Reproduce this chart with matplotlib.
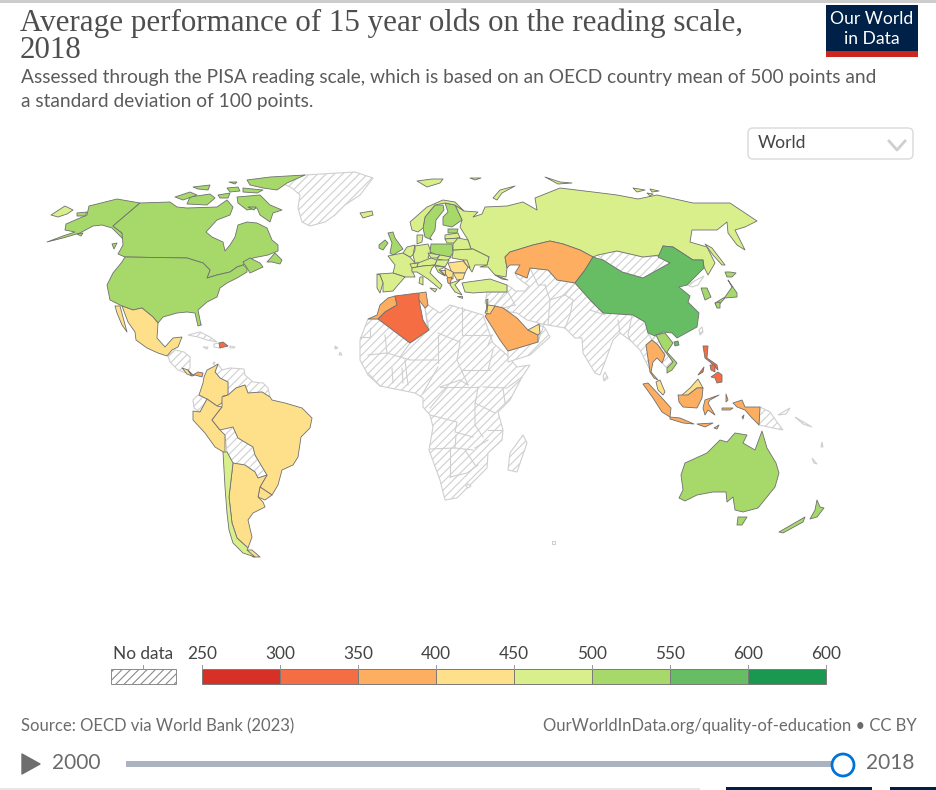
import numpy as np
import matplotlib
matplotlib.use("Agg")
import matplotlib.pyplot as plt
from matplotlib.patches import Polygon, Rectangle, FancyBboxPatch, Circle

plt.rcParams["hatch.linewidth"] = 0.8

TITLE = ["Average performance of 15 year olds on the reading scale,", "2018"]
SUBTITLE = ["Assessed through the PISA reading scale, which is based on an OECD country mean of 500 points and",
            "a standard deviation of 100 points."]
BIN_EDGES = [250, 300, 350, 400, 450, 500, 550, 600, 650]
BIN_LABELS = ["250", "300", "350", "400", "450", "500", "550", "600", "600"]
BIN_COLORS = ["#d73027", "#f46d43", "#fdae61", "#fee08b", "#d9ef8b", "#a6d96a", "#66bd63", "#1a9850"]

# country outlines, traced by eye, in picture pixels
alaska = [(47,242),(63,236),(75,232),(65,230),(66,224),(80,218),(87,215),(89,206),(117,199),(140,203),(113,226),(122,233),(123,239),(112,228),(102,225),(93,226),(80,233),(63,238)]
canada = [(140,203),(170,202),(177,207),(187,208),(217,207),(227,200),(233,207),(230,215),(217,220),(206,232),(212,237),(223,242),(225,251),(230,245),(235,237),(238,225),(247,222),(257,223),(267,228),(272,240),(278,245),(278,251),(268,255),(253,258),(243,265),(237,267),(230,272),(217,275),(207,278),(210,270),(203,263),(187,258),(125,257),(118,254),(123,245),(122,233),(113,226)]
canada_isles = [
    [(243,262),(250,258),(260,263),(263,267),(250,273),(247,268)],
    [(267,262),(275,253),(282,260),(280,264),(272,262)],
    [(237,197),(260,195),(270,205),(282,210),(273,213),(270,222),(260,215),(257,208),(247,210),(238,203)],
    [(247,180),(270,177),(305,175),(287,183),(277,190),(263,188),(250,185)],
    [(190,197),(210,194),(215,198),(207,205),(187,204)],
    [(175,197),(190,192),(197,195),(183,200)],
    [(193,187),(210,185),(208,190),(198,189)],
    [(227,188),(238,187),(240,191),(230,192)],
    [(218,195),(230,193),(228,198),(220,198)],
    [(243,188),(263,190),(257,193),(243,192)],
    [(229,182),(237,182),(235,184)],
    [(112,244),(117,243),(114,249)],
    [(248,207),(256,207),(254,210)],
    [(77,213),(87,212),(85,216),(77,216)],
    [(77,234),(83,233),(81,236)],
]
usa = [(125,257),(187,258),(203,263),(210,270),(207,278),(217,275),(230,272),(237,267),(243,265),(247,268),(247,272),(237,278),(227,283),(220,288),(217,297),(207,302),(198,310),(201,325),(198,326),(195,313),(187,312),(177,313),(163,317),(158,323),(153,317),(142,308),(133,310),(122,306),(110,300),(107,285),(113,273),(122,262)]
mexico = [(122,306),(133,310),(142,308),(153,317),(158,323),(157,338),(165,347),(173,338),(182,337),(178,347),(172,350),(167,356),(158,353),(147,348),(136,340),(135,332),(128,322)]
baja = [(115,306),(120,306),(127,332),(122,325),(117,313)]
costa_rica = [(182,368),(188,370),(192,376),(187,374)]
panama = [(188,370),(193,375),(198,372),(203,373),(202,377),(195,375),(192,376)]
dominican = [(219,343),(223,342),(228,346),(220,348)]
colombia = [(218,364),(213,367),(207,370),(204,377),(203,383),(199,395),(207,399),(217,406),(222,403),(223,396),(228,395),(228,382),(220,378),(215,372)]
peru = [(193,411),(200,412),(207,399),(217,406),(222,407),(212,420),(220,430),(225,435),(225,453),(215,447),(205,433),(193,420)]
brazil = [(222,397),(228,395),(236,388),(245,385),(248,393),(262,392),(270,397),(272,400),(285,403),(302,408),(312,418),(310,428),(301,437),(298,457),(293,465),(282,470),(278,485),(272,495),(260,487),(267,475),(255,455),(253,447),(238,438),(233,427),(220,430),(212,420),(222,407)]
uruguay = [(260,487),(272,495),(265,500),(258,497)]
argentina = [(233,463),(245,465),(255,472),(258,478),(267,475),(260,487),(258,497),(263,502),(265,507),(253,513),(248,520),(252,537),(248,548),(237,538),(232,523),(229,497)]
argentina_tdf = [(247,550),(252,550),(260,557),(253,557)]
chile = [(223,452),(227,452),(233,463),(229,497),(232,523),(237,538),(248,548),(247,550),(255,557),(243,553),(233,543),(229,530),(227,513),(225,487)]
russia = [(460,227),(462,220),(455,205),(464,211),(478,212),(473,217),(482,214),(485,207),(507,206),(523,202),(537,210),(535,198),(560,188),(593,192),(617,195),(638,199),(657,195),(693,203),(730,203),(748,215),(757,221),(745,227),(735,230),(745,250),(737,245),(728,233),(727,222),(717,230),(692,230),(690,242),(707,247),(715,263),(708,275),(704,267),(703,260),(693,260),(673,247),(663,246),(660,255),(643,257),(617,251),(598,255),(593,257),(580,250),(563,244),(550,241),(533,245),(510,252),(505,257),(507,268),(506,277),(495,275),(488,267),(480,267),(487,265),(489,257),(473,249),(471,249),(468,240)]
russia_isles = [
    [(705,244),(712,248),(725,265),(722,265),(713,255)],
    [(493,198),(500,190),(515,186),(502,193),(497,200)],
    [(417,181),(432,179),(443,179),(440,183),(427,187)],
    [(470,178),(481,178),(475,180)],
    [(633,188),(645,190),(637,192)],
    [(650,189),(659,191),(652,192)],
    [(647,193),(653,194),(650,196)],
    [(545,177),(560,182),(572,183),(558,184)],
    [(51,215),(65,206),(73,210),(67,214),(58,217)],
]
ukraine = [(453,250),(473,249),(489,257),(487,265),(475,265),(472,272),(468,266),(463,260),(452,258)]
moldova = [(463,260),(467,260),(470,268),(467,266)]
finland = [(445,203),(455,205),(462,220),(452,227),(443,225),(443,217),(448,212)]
sweden = [(443,205),(444,210),(436,220),(435,230),(430,238),(432,240),(425,237),(423,228),(425,217),(435,205)]
norway = [(412,230),(410,222),(427,207),(443,200),(455,202),(464,211),(455,205),(445,203),(435,205),(425,217),(423,228),(418,232)]
iceland = [(360,213),(372,211),(373,215),(363,218)]
uk = [(388,233),(393,232),(395,238),(403,249),(393,255),(390,253),(392,243)]
ireland = [(379,245),(385,240),(388,243),(383,250),(379,248)]
denmark = [(417,235),(423,235),(422,242),(417,244)]
france = [(388,256),(403,253),(410,257),(415,263),(412,270),(415,277),(405,277),(393,273),(395,265)]
spain = [(378,274),(393,273),(405,277),(398,285),(393,291),(383,292),(383,283),(380,275)]
portugal = [(377,274),(380,275),(383,283),(380,293),(377,288)]
benelux = [(407,247),(415,245),(413,255),(410,257),(403,253)]
germany = [(415,246),(428,244),(431,252),(428,257),(431,261),(418,263),(415,263),(413,255),(415,250)]
poland = [(431,244),(452,244),(453,253),(450,257),(437,255),(430,252)]
estonia = [(448,229),(458,229),(457,233),(448,233)]
latvia = [(445,235),(458,233),(460,238),(445,239)]
lithuania = [(445,239),(460,238),(458,243),(447,243)]
belarus = [(453,244),(458,238),(468,240),(471,249),(453,250)]
czechia = [(428,253),(440,255),(437,258),(431,258)]
slovakia = [(440,255),(451,257),(447,261),(437,259)]
austria = [(418,263),(431,258),(437,260),(435,265),(423,266),(417,267)]
switzerland = [(410,264),(418,263),(417,267),(412,268)]
hungary = [(437,260),(449,260),(445,267),(435,265)]
italy = [(412,268),(417,267),(423,266),(435,265),(432,268),(430,273),(442,285),(440,289),(428,279),(417,272),(412,272)]
sicily = [(430,288),(437,289),(435,292)]
sardinia = [(420,277),(423,277),(423,285),(419,283)]
romania = [(448,263),(463,261),(468,267),(465,273),(452,273)]
bulgaria = [(453,273),(465,273),(463,279),(457,280)]
serbia = [(445,268),(453,272),(453,279),(448,278),(445,273)]
bosnia = [(440,270),(445,270),(445,275)]
croatia = [(435,266),(445,267),(439,270),(445,276),(438,272)]
albania = [(447,278),(452,277),(450,284),(448,283)]
greece = [(451,283),(460,280),(455,285),(462,295),(455,292),(450,285)]
crete = [(457,296),(462,296),(462,298)]
turkey = [(462,283),(468,282),(490,279),(507,285),(507,292),(487,292),(473,293),(465,292)]
georgia = [(495,275),(508,280),(502,279)]
morocco = [(368,319),(377,315),(380,305),(388,298),(395,296),(397,305),(385,312),(378,319)]
algeria = [(395,296),(418,293),(423,297),(419,300),(423,320),(429,330),(410,343),(378,319),(385,312),(397,305)]
tunisia = [(419,293),(426,292),(428,305),(425,308),(419,300)]
saudi = [(485,316),(495,306),(503,308),(517,318),(528,330),(538,335),(538,342),(518,348),(508,351),(500,340),(492,327)]
uae = [(528,330),(539,324),(540,333),(538,335)]
jordan = [(485,313),(488,305),(495,306),(490,314)]
israel = [(486,300),(488,299),(487,312)]
kazakhstan = [(505,257),(510,252),(533,245),(550,241),(563,244),(580,250),(593,257),(585,270),(575,283),(557,280),(548,270),(530,268),(527,278),(515,273),(520,265),(510,265),(507,268)]
china = [(575,283),(585,270),(593,257),(603,260),(622,272),(643,278),(670,263),(658,257),(663,246),(673,247),(693,260),(703,260),(704,268),(687,285),(679,287),(690,296),(688,302),(699,313),(697,327),(677,338),(672,333),(663,332),(655,336),(648,333),(645,322),(633,315),(603,313),(592,302)]
hainan = [(674,342),(678,341),(679,345),(675,346)]
south_korea = [(701,288),(707,288),(711,297),(705,300)]
honshu = [(728,280),(737,293),(737,297),(725,298),(717,307),(715,303),(725,297),(732,287)]
hokkaido = [(725,272),(730,272),(736,273),(732,277),(727,277)]
kyushu = [(715,303),(720,302),(720,308),(717,308)]
vietnam = [(656,335),(665,333),(673,343),(667,352),(677,363),(672,370),(667,373),(667,368),(673,362),(662,347)]
thailand = [(646,345),(652,340),(658,345),(665,355),(662,363),(657,358),(653,362),(651,372),(658,380),(654,378),(650,372)]
malaysia = [(656,382),(660,380),(665,392),(663,395),(658,390)]
malaysia_borneo = [(681,396),(690,388),(698,379),(703,388),(697,388),(688,395)]
indonesia = [(678,395),(688,395),(697,388),(703,388),(702,398),(697,408),(683,407),(679,402)]
indonesia_isles = [
    [(643,384),(648,383),(662,398),(671,408),(670,417),(662,412),(653,398)],
    [(670,417),(680,418),(694,424),(683,423),(670,419)],
    [(705,400),(719,395),(710,400),(708,403),(715,415),(708,410),(705,415),(703,408)],
    [(733,403),(742,400),(745,407),(760,407),(759,425),(752,418),(745,410),(737,407)],
    [(726,394),(728,400),(726,402)],
    [(722,408),(733,408),(730,410),(722,410)],
    [(714,428),(719,425),(717,429)],
    [(697,424),(713,423),(705,427)],
    [(742,417),(744,415),(743,419)],
]
philippines = [(703,346),(708,346),(707,358),(717,365),(718,370),(710,362),(705,358)]
philippines_isles = [
    [(710,365),(715,365),(715,372),(711,370)],
    [(711,377),(718,372),(722,375),(722,382),(717,383),(715,378)],
    [(698,375),(704,367),(703,372)],
]
australia = [(679,498),(683,490),(681,475),(685,463),(707,453),(720,440),(727,442),(735,433),(747,435),(743,443),(755,450),(762,431),(767,448),(776,463),(779,473),(775,487),(758,508),(743,512),(735,510),(733,497),(727,502),(726,492),(713,492),(697,495),(685,501)]
tasmania = [(738,517),(747,517),(742,525),(737,525)]
nz_south = [(779,532),(805,517),(803,522),(783,533)]
nz_north = [(817,500),(820,507),(824,508),(817,517),(810,519),(815,510)]

COUNTRY_SCORES = [
    (alaska, 505), (canada, 520), (usa, 505), (mexico, 420), (baja, 420), (costa_rica, 426), (panama, 377),
    (dominican, 342), (colombia, 412), (peru, 401), (brazil, 413), (uruguay, 427), (argentina, 402),
    (argentina_tdf, 402), (chile, 452), (russia, 479), (ukraine, 466), (moldova, 424), (finland, 520),
    (sweden, 506), (norway, 499), (iceland, 474), (uk, 504), (ireland, 518), (denmark, 499),
    (france, 493), (spain, 477), (portugal, 492), (benelux, 490), (germany, 498), (poland, 512),
    (estonia, 523), (latvia, 479), (lithuania, 476), (belarus, 474), (czechia, 490), (slovakia, 458),
    (austria, 484), (switzerland, 484), (hungary, 476), (italy, 476), (sicily, 476), (sardinia, 476),
    (romania, 428), (bulgaria, 420), (serbia, 439), (bosnia, 403), (croatia, 479), (albania, 385),
    (greece, 457), (crete, 457), (turkey, 466), (georgia, 380), (morocco, 359), (algeria, 340),
    (tunisia, 361), (saudi, 399), (uae, 432), (jordan, 419), (israel, 510), (kazakhstan, 387),
    (china, 555), (hainan, 555), (south_korea, 514), (honshu, 504), (hokkaido, 504), (kyushu, 504),
    (vietnam, 505), (thailand, 393), (malaysia, 415), (malaysia_borneo, 415), (indonesia, 371),
    (philippines, 340), (australia, 503), (tasmania, 503), (nz_south, 506), (nz_north, 506),
]
for isle in canada_isles:
    COUNTRY_SCORES.append((isle, 520))
for isle in russia_isles:
    COUNTRY_SCORES.append((isle, 479))
for isle in indonesia_isles:
    COUNTRY_SCORES.append((isle, 371))
for isle in philippines_isles:
    COUNTRY_SCORES.append((isle, 340))

# places with no data
greenland = [(280,182),(305,175),(355,172),(373,178),(360,195),(345,205),(335,215),(325,222),(310,226),(302,222),(298,208),(300,195),(292,188)]
central_america = [(168,356),(175,350),(184,352),(190,357),(190,368),(186,373),(178,370),(170,362)]
cuba = [(188,335),(200,332),(210,337),(217,342),(207,340),(198,337)]
venezuela_guianas = [(218,364),(215,372),(220,378),(228,382),(228,395),(236,388),(245,385),(248,393),(262,392),(270,397),(268,388),(263,383),(253,382),(245,375),(244,369),(230,368),(222,370)]
ecuador = [(193,400),(198,395),(207,399),(200,412),(194,408)]
bolivia_paraguay = [(233,427),(238,438),(253,447),(255,455),(267,475),(258,478),(255,472),(245,465),(233,463),(227,452),(225,435)]
africa = [(368,319),(378,319),(410,343),(429,330),(425,308),(428,305),(440,313),(450,305),(483,315),(493,343),(507,355),(517,367),(530,365),(522,377),(510,400),(498,412),(503,430),(502,440),(488,453),(487,468),(478,477),(457,498),(445,500),(440,480),(429,450),(433,427),(430,415),(423,407),(423,398),(415,393),(380,386),(368,375),(360,360),(360,340)]
madagascar = [(523,435),(527,443),(517,472),(508,470),(510,453)]
asia_block = [(485,303),(487,292),(507,292),(507,285),(512,288),(515,291),(525,291),(529,286),(523,282),(517,277),(515,273),(527,278),(530,268),(548,270),(557,280),(575,283),(592,302),(603,313),(633,315),(645,322),(648,333),(652,340),(646,345),(650,360),(651,372),(645,360),(640,350),(637,347),(630,340),(620,333),(613,340),(605,362),(600,375),(595,373),(583,353),(582,338),(575,338),(565,328),(548,325),(542,324),(535,322),(527,320),(517,313),(510,312),(503,308),(495,306),(488,305)]
sri_lanka = [(605,372),(608,378),(604,381),(603,376)]
arabia_south = [(538,342),(540,333),(539,324),(545,328),(550,337),(541,345),(530,355),(508,362),(508,351),(518,348)]
mongolia = [(597,254),(617,251),(643,257),(658,256),(670,263),(643,278),(622,272),(603,260)]
laos_cambodia = [(652,340),(656,335),(662,347),(673,362),(667,368),(662,363),(665,355),(658,345)]
north_korea = [(687,285),(704,276),(698,285),(692,287)]
taiwan = [(702,327),(703,332),(700,335),(699,330)]
png = [(760,407),(770,412),(777,422),(783,430),(773,428),(759,425)]
small_isles = [
    [(778,415),(790,408),(786,414)], [(795,417),(812,427),(803,424)], [(812,458),(817,464),(814,463)],
    [(822,442),(823,447),(821,447)], [(203,347),(208,347),(207,349)], [(230,346),(235,347),(234,348),(230,348)],
    [(214,344),(219,343),(220,348),(214,347)], [(198,320),(202,325),(199,325)], [(468,484),(471,486),(468,488),(466,486)],
    [(552,541),(555,541),(555,544),(552,544)], [(335,346),(338,348),(335,349)], [(340,352),(342,355),(339,355)],
    [(213,363),(215,362),(214,365)],
]
NO_DATA = [greenland, central_america, cuba, venezuela_guianas, ecuador, bolivia_paraguay, africa, madagascar,
           asia_block, sri_lanka, arabia_south, mongolia, laos_cambodia, north_korea, taiwan, png] + small_isles

# inner borders of the no data block
NO_DATA_BORDERS = [
    [(462,307),(462,335)], [(438,333),(460,342)], [(462,335),(492,335)], [(425,308),(428,330)],
    [(438,335),(438,363)], [(460,342),(457,360),(468,385)], [(493,350),(488,370)], [(462,370),(490,370)],
    [(483,387),(507,388),(522,377)], [(503,388),(505,403)], [(440,387),(478,387)],
    [(478,387),(475,405),(475,425),(483,437)], [(430,415),(457,422),(455,432),(473,437)],
    [(430,449),(455,448),(473,450)], [(455,448),(456,435)], [(450,448),(450,477)],
    [(450,477),(467,473),(478,465)], [(465,450),(475,465)], [(475,448),(488,440)],
    [(488,430),(502,430)], [(495,413),(475,403)], [(360,337),(370,337),(370,328)],
    [(385,335),(387,353),(368,355)], [(387,353),(400,357),(410,343)], [(400,357),(410,360),(437,360)],
    [(368,373),(380,386)], [(392,368),(393,383)], [(402,368),(403,383)], [(405,360),(408,385)],
    [(438,367),(423,393)], [(440,387),(460,380),(468,385)], [(430,408),(447,388)],
    [(515,305),(508,292)], [(545,285),(550,300),(548,325)], [(550,300),(565,295),(575,283)],
    [(565,295),(573,300),(570,315),(565,328)], [(530,268),(538,285),(545,285)], [(590,310),(605,315)],
    [(618,320),(620,333)], [(632,315),(628,335),(630,340)], [(505,292),(495,305)],
    [(503,308),(515,305)], [(545,322),(538,342)], [(492,335),(488,345)],
]

color_index = lambda v: int(np.digitize(v, BIN_EDGES)) - 1

fig = plt.figure(figsize=(9.37, 7.9), dpi=100)
ax = fig.add_axes([0, 0, 1, 1])
ax.set_xlim(0, 937)
ax.set_ylim(790, 0)
ax.axis("off")

GREY = "#cfcfcf"
for outline in NO_DATA:
    ax.add_patch(Polygon(outline, closed=True, facecolor="white", edgecolor=GREY, hatch="////", linewidth=0.8, zorder=1))
for line in NO_DATA_BORDERS:
    ax.plot(*zip(*line), color=GREY, linewidth=0.8, zorder=1.5)
for outline, score in COUNTRY_SCORES:
    ax.add_patch(Polygon(outline, closed=True, facecolor=BIN_COLORS[color_index(score)],
                         edgecolor="#6f6f6f", linewidth=0.6, joinstyle="round", zorder=2))

# header
ax.add_patch(Rectangle((0, 0), 937, 2.5, color="#cccccc", linewidth=0))
for txt, y in zip(TITLE, [23, 51]):
    ax.text(20, y, txt, family="Liberation Serif", fontsize=22.3, color="#4e4e4e", va="center", ha="left")
for txt, y in zip(SUBTITLE, [78, 102]):
    ax.text(21, y, txt, family="Lato", fontsize=13.75, color="#5b5b5b", va="center", ha="left")

# logo
ax.add_patch(Rectangle((826, 5), 92, 46, color="#002147", linewidth=0))
ax.add_patch(Rectangle((826, 51), 92, 6, color="#ce261e", linewidth=0))
ax.text(871.5, 19, "Our World", family="Lato", fontsize=12.6, color="white", ha="center", va="center")
ax.text(871.5, 39, "in Data", family="Lato", fontsize=12.6, color="white", ha="center", va="center")

# world dropdown
ax.add_patch(FancyBboxPatch((751, 131), 159, 25, boxstyle="round,pad=3,rounding_size=5", facecolor="white",
                            edgecolor="#d9d9d9", linewidth=1))
ax.text(758, 143, "World", family="Lato", fontsize=12.6, color="#444444", va="center")
ax.plot([889, 897, 905], [141, 150, 141], color="#cfcfcf", linewidth=2)

# legend
bar_left, bar_step, bar_top, bar_h = 202, 78, 669, 15
for i, col in enumerate(BIN_COLORS):
    ax.add_patch(Rectangle((bar_left + i * bar_step, bar_top), bar_step, bar_h, facecolor=col, edgecolor="#7a7a7a", linewidth=0.7))
for i, lab in enumerate(BIN_LABELS):
    xp = bar_left + i * bar_step
    ax.plot([xp, xp], [665, bar_top], color="#999999", linewidth=0.7)
    ax.text(xp, 654, lab, family="Lato", fontsize=12.4, color="#444444", ha="center", va="center")
ax.add_patch(Rectangle((111, bar_top), 65, bar_h, facecolor="white", edgecolor="#8a8a8a", hatch="////", linewidth=0.7))
ax.plot([143.5, 143.5], [665, bar_top], color="#999999", linewidth=0.7)
ax.text(143, 654, "No data", family="Lato", fontsize=12.4, color="#444444", ha="center", va="center")

# footer
ax.text(21, 726, "Source: OECD via World Bank (2023)", family="Lato", fontsize=12, color="#6b6b6b", va="center")
ax.text(917, 726, "OurWorldInData.org/quality-of-education • CC BY", family="Lato", fontsize=11.95, color="#6b6b6b", va="center", ha="right")

# timeline
ax.add_patch(Polygon([(22, 754), (40, 764), (22, 774)], closed=True, facecolor="#6e6e6e", edgecolor="#6e6e6e", linewidth=1, joinstyle="round"))
ax.text(52, 763, "2000", family="Lato", fontsize=15, color="#6b6b6b", va="center")
ax.add_patch(Rectangle((126, 761), 717, 6, color="#aab3bf", linewidth=0))
ax.add_patch(Circle((843, 765), 11, facecolor="white", edgecolor="#0073d9", linewidth=2, zorder=4))
ax.text(866, 763, "2018", family="Lato", fontsize=15, color="#6b6b6b", va="center")

# bottom edge of the page behind the chart
ax.add_patch(Rectangle((726, 787), 146, 3, color="#002147", linewidth=0))
ax.add_patch(Rectangle((890, 787), 47, 3, color="#002147", linewidth=0))
ax.add_patch(Rectangle((0, 788), 700, 2, color="#e6e6e6", linewidth=0))

fig.savefig("out.png", dpi=100)
